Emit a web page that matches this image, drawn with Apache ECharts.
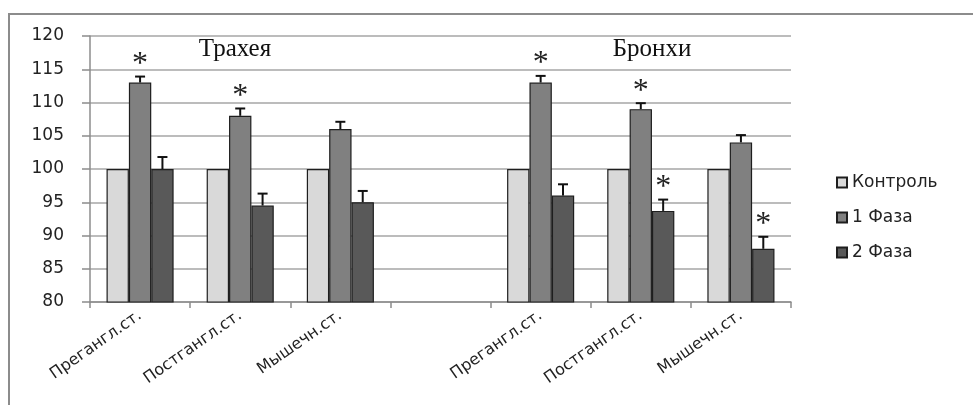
<!DOCTYPE html>
<html>
<head>
<meta charset="utf-8">
<script src="https://cdn.jsdelivr.net/npm/echarts@6/dist/echarts.min.js"></script>
<style>
  html, body { margin: 0; padding: 0; background: #fff; }
  #chart { width: 973px; height: 405px; }
</style>
</head>
<body>
<div id="chart"></div>
<script>
// Categories: three wall layers for the trachea, a spacer, then the same for the bronchi
const categories = ['Прегангл.ст.', 'Постгангл.ст.', 'Мышечн.ст.', '', 'Прегангл.ст.', 'Постгангл.ст.', 'Мышечн.ст.'];
const seriesNames = ['Контроль', '1 Фаза', '2 Фаза'];
const yTicks = [80, 85, 90, 95, 100, 105, 110, 115, 120];

const controlValues = [100, 100, 100, null, 100, 100, 100];
const phase1Values = [113, 108, 106, null, 113, 109, 104];
const phase2Values = [100, 94.5, 95, null, 96, 93.7, 88];

// Upper error (one-sided) for each phase
const phase1Errors = [0.9, 1.1, 1.1, null, 1.0, 0.9, 1.1];
const phase2Errors = [1.8, 1.8, 1.7, null, 1.7, 1.7, 1.8];

// Significance flags (drawn as asterisks above the error bars)
const phase1Significant = [1, 1, 0, 0, 1, 1, 0];
const phase2Significant = [0, 0, 0, 0, 0, 1, 1];

const groupTitles = ['Трахея', 'Бронхи'];

const colors = ['#d9d9d9', '#808080', '#595959'];
const GAP = 0.33;

function barSeries(name, values, color) {
  return {
    name: name,
    type: 'bar',
    barGap: '0%',
    barCategoryGap: (GAP * 100) + '%',
    itemStyle: { color: color, borderColor: '#1e1e1e', borderWidth: 1.2 },
    data: values.map(v => v == null ? '-' : v),
    z: 2
  };
}

// Error bars plus asterisks for one phase; slot is the bar's position in its group
function errorSeries(values, errors, flags, slot) {
  const data = [];
  values.forEach((v, i) => {
    if (v != null) data.push([i, v, errors[i], flags[i]]);
  });
  return {
    type: 'custom',
    name: 'err' + slot,
    z: 5,
    silent: true,
    renderItem: function (params, api) {
      const idx = api.value(0);
      const val = api.value(1);
      const err = api.value(2);
      const sig = api.value(3);
      const band = api.size([1, 0])[0];
      const barW = band * (1 - GAP) / 3;
      const base = api.coord([idx, val]);
      const top = api.coord([idx, val + err]);
      const cx = base[0] + (slot - 1) * barW;
      const children = [
        { type: 'line', shape: { x1: cx, y1: base[1], x2: cx, y2: top[1] }, style: { stroke: '#111', lineWidth: 2 } },
        { type: 'line', shape: { x1: cx - 5, y1: top[1], x2: cx + 5, y2: top[1] }, style: { stroke: '#111', lineWidth: 2 } }
      ];
      if (sig) {
        children.push({
          type: 'text',
          style: {
            text: '*', x: cx, y: top[1] - 12,
            align: 'center', verticalAlign: 'middle',
            font: '32px "Liberation Serif", serif', fill: '#222'
          }
        });
      }
      return { type: 'group', children: children };
    },
    data: data
  };
}

const chart = echarts.init(document.getElementById('chart'), null, { renderer: 'canvas' });
chart.setOption({
  animation: false,
  backgroundColor: '#fff',
  grid: { left: 90, right: 182, top: 36, bottom: 103, containLabel: false },
  legend: {
    data: seriesNames,
    orient: 'vertical',
    left: 831,
    top: 169,
    itemWidth: 10,
    itemHeight: 10,
    itemGap: 18,
    icon: 'rect',
    textStyle: { fontFamily: 'DejaVu Sans', fontSize: 17, color: '#222', lineHeight: 17 }
  },
  xAxis: {
    type: 'category',
    data: categories,
    axisLine: { lineStyle: { color: '#8c8c8c', width: 1.5 } },
    axisTick: { show: true, length: 6, alignWithLabel: false, lineStyle: { color: '#8c8c8c', width: 1.5 } },
    axisLabel: { rotate: 35, margin: 12, interval: 0, fontFamily: 'DejaVu Sans', fontSize: 16, color: '#222' }
  },
  yAxis: {
    type: 'value',
    min: yTicks[0],
    max: yTicks[yTicks.length - 1],
    interval: yTicks[1] - yTicks[0],
    axisLine: { show: true, lineStyle: { color: '#8c8c8c', width: 1.5 } },
    axisTick: { show: true, inside: false, length: 8, lineStyle: { color: '#8c8c8c', width: 1.5 } },
    splitLine: { lineStyle: { color: '#a6a6a6', width: 1.5 } },
    axisLabel: { margin: 26, fontFamily: 'DejaVu Sans', fontSize: 17, color: '#222' }
  },
  graphic: [
    { type: 'rect', shape: { x: 9, y: 14, width: 990, height: 420 }, style: { fill: 'none', stroke: '#8c8c8c', lineWidth: 2 }, z: -1, silent: true },
    { type: 'text', x: 235, y: 49, style: { text: groupTitles[0], align: 'center', verticalAlign: 'middle', font: '25px "Liberation Serif", serif', fill: '#111' } },
    { type: 'text', x: 652, y: 49, style: { text: groupTitles[1], align: 'center', verticalAlign: 'middle', font: '25px "Liberation Serif", serif', fill: '#111' } }
  ],
  series: [
    barSeries(seriesNames[0], controlValues, colors[0]),
    barSeries(seriesNames[1], phase1Values, colors[1]),
    barSeries(seriesNames[2], phase2Values, colors[2]),
    errorSeries(phase1Values, phase1Errors, phase1Significant, 1),
    errorSeries(phase2Values, phase2Errors, phase2Significant, 2)
  ]
});
</script>
</body>
</html>
